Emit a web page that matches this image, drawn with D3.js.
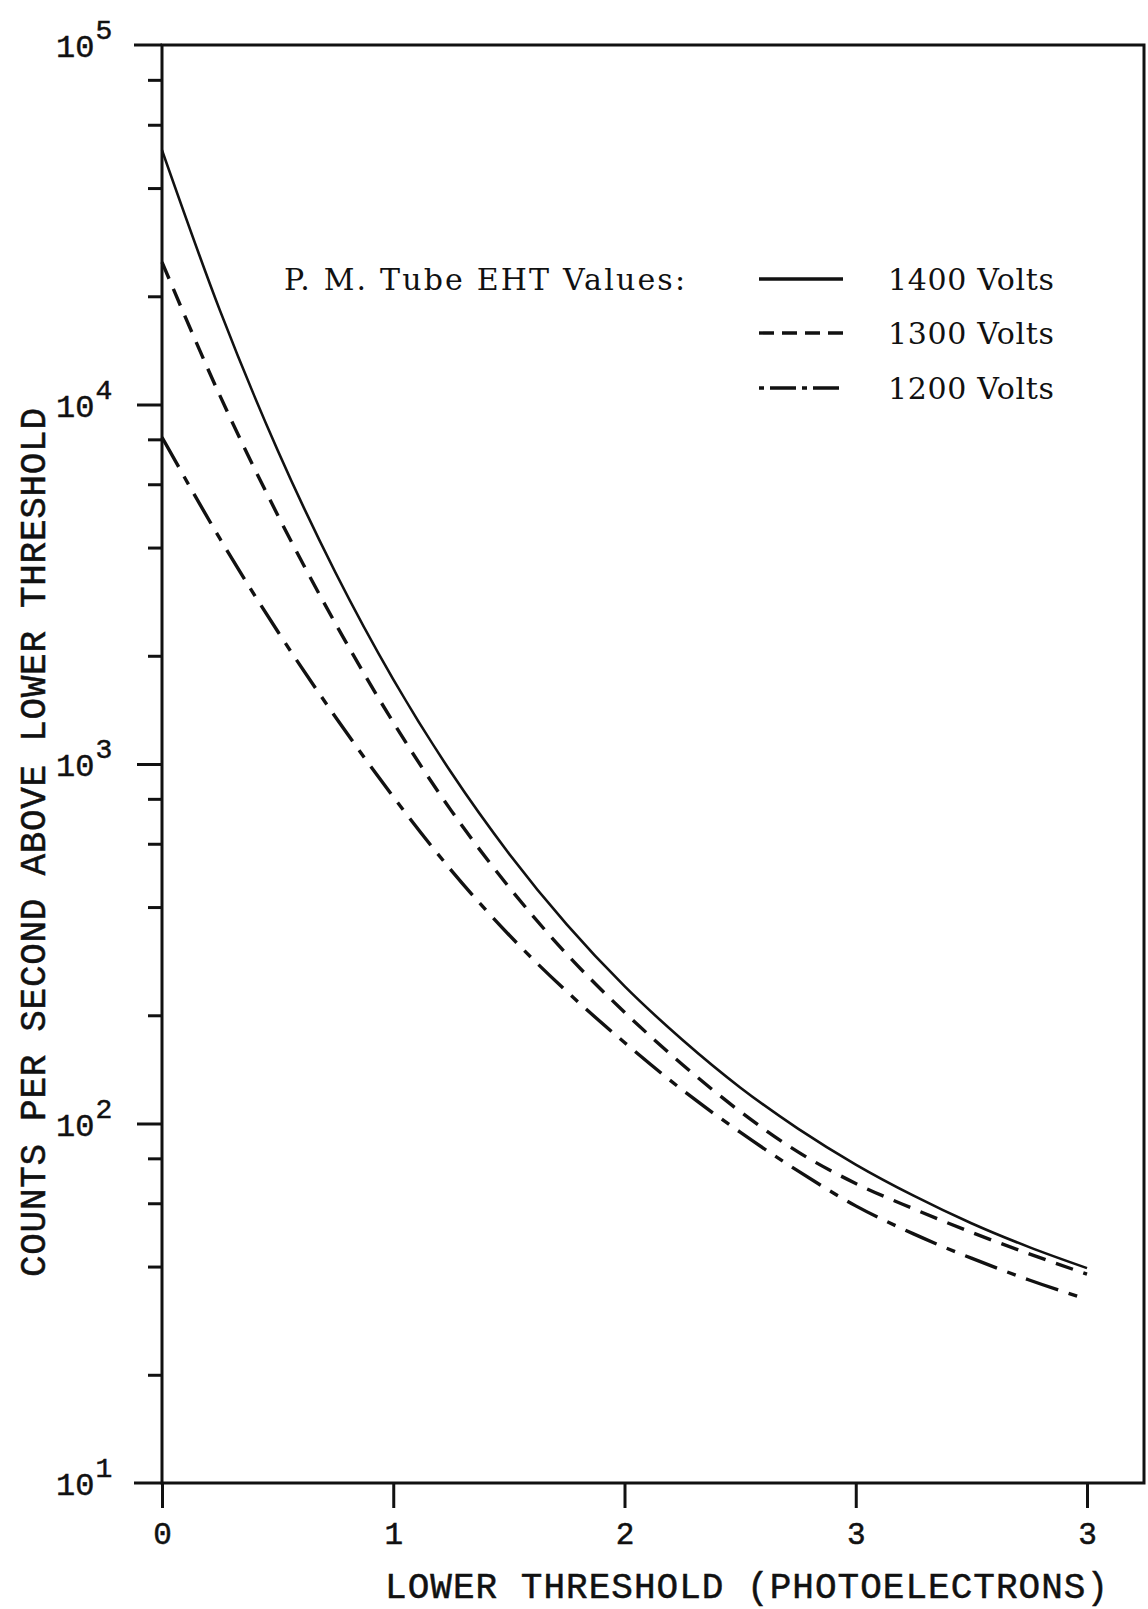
<!DOCTYPE html>
<html>
<head>
<meta charset="utf-8">
<script src="https://cdn.jsdelivr.net/npm/d3@7"></script>
<style>
  body { margin: 0; background: #fff; }
</style>
</head>
<body>
<script>
// data
let thresholds = [0, 0.25, 0.5, 0.75, 1.0, 1.25, 1.5, 1.75, 2.0, 2.25, 2.5, 2.75, 3.0, 3.25, 3.5, 3.75, 4.0];
let counts1400 = [51000, 18300, 7460, 3410, 1720, 948, 564, 358, 241, 171, 126, 96.8, 76.9, 63.0, 52.8, 45.3, 39.6];
let counts1300 = [24900, 10600, 4930, 2460, 1306, 743, 455, 296, 204, 146, 108, 83.4, 68.1, 57.9, 49.8, 43.4, 38.1];
let counts1200 = [8110, 4240, 2340, 1352, 811, 507, 335, 233, 168, 124, 94.6, 73.8, 59.0, 49.3, 42.2, 36.7, 32.4];

let seriesNames = ["1400 Volts", "1300 Volts", "1200 Volts"];
let xTickValues = [0, 1, 2, 3, 4];
let xTickLabels = ["0", "1", "2", "3", "3"];
let yMajorTicks = [1e1, 1e2, 1e3, 1e4, 1e5];
let yMinorMultiples = [2, 4, 6, 8];

//---------------------------------------------------------------------------------------------------//

let width = 1148, height = 1609;
let plotLeft = 162, plotRight = 1144, plotTop = 45, plotBottom = 1483;
let ink = "#111";
let typeFont = "Liberation Mono, monospace";

let svg = d3.select("body").append("svg").attr("width", width).attr("height", height);

let x = d3.scaleLinear().domain([0, 4]).range([plotLeft, 1087]);
let y = d3.scaleLog().domain([10, 1e5]).range([plotBottom, plotTop]);

//---------------------------------------------------------------------------------------------------//
// frame

svg.append("rect")
    .attr("x", plotLeft).attr("y", plotTop)
    .attr("width", plotRight - plotLeft).attr("height", plotBottom - plotTop)
    .attr("fill", "none").attr("stroke", ink).attr("stroke-width", 3);

// top and bottom lines run a little past the left axis
[plotTop, plotBottom].forEach(yy => {
    svg.append("line")
        .attr("x1", 134).attr("x2", plotLeft)
        .attr("y1", yy).attr("y2", yy)
        .attr("stroke", ink).attr("stroke-width", 3);
});

//---------------------------------------------------------------------------------------------------//
// y axis ticks

let minorValues = [];
yMajorTicks.slice(0, -1).forEach(p => yMinorMultiples.forEach(m => minorValues.push(p * m)));

let yMinorAxis = d3.axisLeft(y).tickValues(minorValues).tickSize(14).tickFormat("");
let yMajorAxis = d3.axisLeft(y).tickValues([1e2, 1e3, 1e4]).tickSize(25).tickFormat("");

let gMinor = svg.append("g").attr("transform", `translate(${plotLeft},0)`).call(yMinorAxis);
let gMajor = svg.append("g").attr("transform", `translate(${plotLeft},0)`).call(yMajorAxis);
[gMinor, gMajor].forEach(g => {
    g.select(".domain").remove();
    g.selectAll(".tick line").attr("stroke", ink).attr("stroke-width", 3);
});

// 10^n labels
let yLabels = svg.selectAll(".ylab").data(yMajorTicks).enter().append("text")
    .attr("class", "ylab")
    .attr("x", 56)
    .attr("y", d => y(d) + 12)
    .attr("font-family", typeFont)
    .attr("font-size", 32)
    .attr("fill", ink)
    .attr("stroke", ink).attr("stroke-width", 0.5);
yLabels.append("tspan").text("10");
yLabels.append("tspan")
    .attr("dx", 1)
    .attr("dy", -18)
    .attr("font-size", 28)
    .text(d => Math.round(Math.log10(d)));

//---------------------------------------------------------------------------------------------------//
// x axis

let xAxis = d3.axisBottom(x).tickValues(xTickValues).tickSize(25).tickPadding(14)
    .tickFormat((d, i) => xTickLabels[i]);
let gx = svg.append("g").attr("transform", `translate(0,${plotBottom})`).call(xAxis);
gx.select(".domain").remove();
gx.selectAll(".tick line").attr("stroke", ink).attr("stroke-width", 3);
gx.selectAll(".tick text")
    .attr("font-family", typeFont)
    .attr("font-size", 31)
    .attr("fill", ink)
    .attr("stroke", ink).attr("stroke-width", 0.5);

//---------------------------------------------------------------------------------------------------//
// axis titles

svg.append("text")
    .attr("x", 385).attr("y", 1598)
    .attr("textLength", 723).attr("lengthAdjust", "spacing")
    .attr("font-family", typeFont)
    .attr("font-size", 36)
    .attr("fill", ink)
    .attr("stroke", ink).attr("stroke-width", 0.5)
    .text("LOWER THRESHOLD (PHOTOELECTRONS)");

svg.append("text")
    .attr("transform", "translate(45,1277) rotate(-90)")
    .attr("textLength", 869).attr("lengthAdjust", "spacing")
    .attr("font-family", typeFont)
    .attr("font-size", 36)
    .attr("fill", ink)
    .attr("stroke", ink).attr("stroke-width", 0.5)
    .text("COUNTS PER SECOND ABOVE LOWER THRESHOLD");

//---------------------------------------------------------------------------------------------------//
// curves

let series = [
    { name: seriesNames[0], values: counts1400, dash: null, w: 2.6 },
    { name: seriesNames[1], values: counts1300, dash: "18,11", w: 3.4 },
    { name: seriesNames[2], values: counts1200, dash: "34,11,9,11", w: 3.4 }
];

let lineFunction = d3.line()
    .x((d, i) => x(thresholds[i]))
    .y(d => y(d))
    .curve(d3.curveMonotoneX);

svg.selectAll(".curve").data(series).enter().append("path")
    .attr("class", "curve")
    .attr("d", s => lineFunction(s.values))
    .attr("fill", "none")
    .attr("stroke", ink)
    .attr("stroke-width", s => s.w)
    .attr("stroke-dasharray", s => s.dash);

//---------------------------------------------------------------------------------------------------//
// legend

let legendDash = [null, "15,8", "5,6,26,6"];
let legendY = [279, 333, 388];

svg.append("text")
    .attr("x", 284).attr("y", legendY[0] + 11)
    .attr("textLength", 401).attr("lengthAdjust", "spacing")
    .attr("font-family", "DejaVu Serif, serif")
    .attr("font-size", 30)
    .attr("fill", ink)
    .text("P. M.  Tube EHT Values:");

let legendRows = svg.selectAll(".leg").data(series).enter().append("g").attr("class", "leg");
legendRows.append("line")
    .attr("x1", 759).attr("x2", 843)
    .attr("y1", (d, i) => legendY[i]).attr("y2", (d, i) => legendY[i])
    .attr("stroke", ink)
    .attr("stroke-width", 3.4)
    .attr("stroke-dasharray", (d, i) => legendDash[i]);
legendRows.append("text")
    .attr("x", 888).attr("y", (d, i) => legendY[i] + 11)
    .attr("textLength", 166).attr("lengthAdjust", "spacing")
    .attr("font-family", "DejaVu Serif, serif")
    .attr("font-size", 30)
    .attr("fill", ink)
    .text(d => d.name);
</script>
</body>
</html>
